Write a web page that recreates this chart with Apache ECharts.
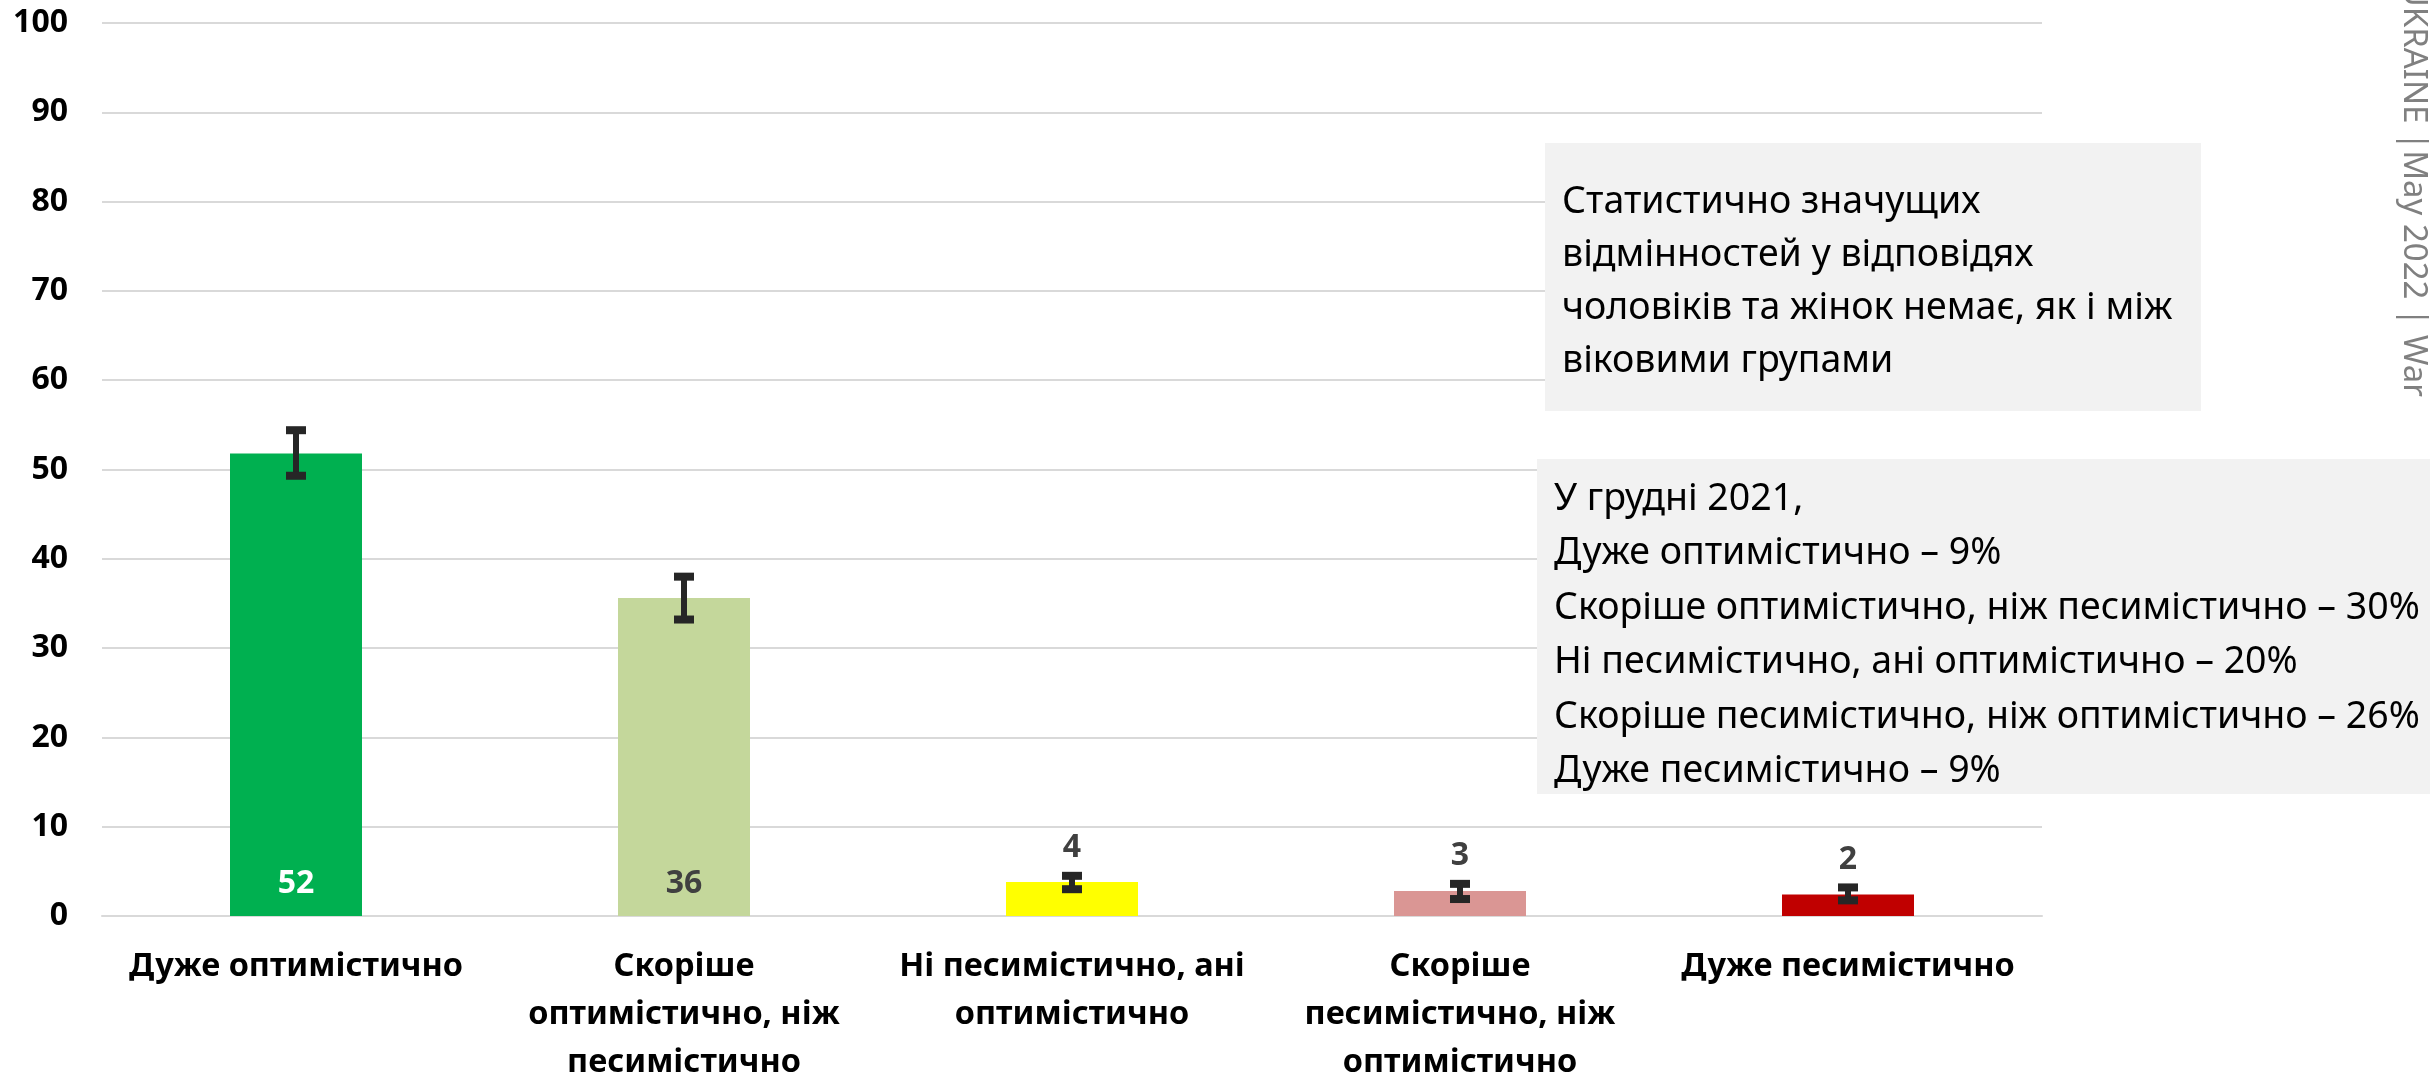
<!DOCTYPE html>
<html>
<head>
<meta charset="utf-8">
<script src="https://cdn.jsdelivr.net/npm/echarts@6/dist/echarts.min.js"></script>
<style>
html,body{margin:0;padding:0;background:#fff;}
#chart{width:2430px;height:1078px;}
</style>
</head>
<body>
<div id="chart"></div>
<script>
const categories = [
  'Дуже оптимістично',
  'Скоріше\nоптимістично, ніж\nпесимістично',
  'Ні песимістично, ані\nоптимістично',
  'Скоріше\nпесимістично, ніж\nоптимістично',
  'Дуже песимістично'
];
const values = [51.8, 35.6, 3.8, 2.8, 2.4];
const valueLabels = ['52', '36', '4', '3', '2'];
const errLow = [49.3, 33.2, 3.0, 1.9, 1.75];
const errHigh = [54.4, 38.0, 4.5, 3.6, 3.2];
const barColors = ['#00B050', '#C4D79B', '#FFFF00', '#DA9694', '#C00000'];
const insideLabelColors = ['#FFFFFF', '#404040'];
const yTicks = [0, 10, 20, 30, 40, 50, 60, 70, 80, 90, 100];
const note1 = 'Статистично значущих\nвідмінностей у відповідях\nчоловіків та жінок немає, як і між\nвіковими групами';
const note2 = 'У грудні 2021,\nДуже оптимістично – 9%\nСкоріше оптимістично, ніж песимістично – 30%\nНі песимістично, ані оптимістично – 20%\nСкоріше песимістично, ніж оптимістично – 26%\nДуже песимістично – 9%';
const sideText = 'UKRAINE |May 2022 | War';

const FONT = '"Noto Sans", "Open Sans", sans-serif';
const chart = echarts.init(document.getElementById('chart'), null, {renderer: 'canvas'});

const barData = values.map((v, i) => ({
  value: v,
  itemStyle: {color: barColors[i]},
  label: i < 2 ? {
    show: true, position: 'insideBottom', distance: 16,
    formatter: valueLabels[i], color: insideLabelColors[i],
    fontSize: 32, fontWeight: 'bold', fontFamily: FONT
  } : {show: false}
}));

const errData = values.map((v, i) => [i, errLow[i], errHigh[i]]);

const option = {
  animation: false,
  backgroundColor: '#fff',
  grid: {left: 102, right: 388, top: 23, bottom: 162, containLabel: false, outerBoundsMode: 'none'},
  xAxis: {
    type: 'category',
    data: categories,
    axisLine: {show: true, lineStyle: {color: '#D9D9D9', width: 2}},
    axisTick: {show: false},
    axisLabel: {
      interval: 0, margin: 27, color: '#000', fontSize: 32.5, fontWeight: 'bold',
      fontFamily: FONT, lineHeight: 48, align: 'center'
    }
  },
  yAxis: {
    type: 'value', min: 0, max: 100, interval: 10,
    axisLine: {show: false}, axisTick: {show: false},
    axisLabel: {
      margin: 34, color: '#000', fontSize: 32, fontWeight: 'bold', fontFamily: FONT,
      formatter: v => yTicks.includes(v) ? String(v) : ''
    },
    splitLine: {lineStyle: {color: '#D9D9D9', width: 2}}
  },
  series: [
    {
      type: 'bar', data: barData, barWidth: 132, z: 2
    },
    {
      type: 'custom', z: 5,
      data: errData,
      encode: {x: 0, y: [1, 2]},
      renderItem: function (params, api) {
        const i = api.value(0);
        const lo = api.coord([i, api.value(1)]);
        const hi = api.coord([i, api.value(2)]);
        const x = hi[0];
        const hw = 10;
        const col = '#262626';
        const children = [
          {type: 'line', shape: {x1: x, y1: hi[1], x2: x, y2: lo[1]}, style: {stroke: col, lineWidth: 6}},
          {type: 'line', shape: {x1: x - hw, y1: hi[1], x2: x + hw, y2: hi[1]}, style: {stroke: col, lineWidth: 8}},
          {type: 'line', shape: {x1: x - hw, y1: lo[1], x2: x + hw, y2: lo[1]}, style: {stroke: col, lineWidth: 8}}
        ];
        if (i >= 2) {
          children.push({
            type: 'text',
            style: {
              text: valueLabels[i], x: x, y: hi[1] - 28,
              align: 'center', verticalAlign: 'middle',
              fill: '#404040', fontSize: 32, fontWeight: 'bold', fontFamily: FONT
            }
          });
        }
        return {type: 'group', children: children};
      }
    }
  ],
  graphic: [
    {
      type: 'rect', z: 100,
      shape: {x: 1545, y: 143, width: 656, height: 268},
      style: {fill: '#F2F2F2'}
    },
    {
      type: 'text', z: 101,
      style: {
        text: note1, x: 1562, y: 176, align: 'left', verticalAlign: 'top',
        fill: '#000', fontSize: 37.5, fontFamily: FONT, lineHeight: 53
      }
    },
    {
      type: 'rect', z: 100,
      shape: {x: 1537, y: 459, width: 893, height: 335},
      style: {fill: '#F2F2F2'}
    },
    {
      type: 'text', z: 101,
      style: {
        text: note2, x: 1554, y: 472, align: 'left', verticalAlign: 'top',
        fill: '#000', fontSize: 37.5, fontFamily: FONT, lineHeight: 54.5
      }
    },
    {
      type: 'text', z: 101,
      x: 2413, y: 397, rotation: -Math.PI / 2,
      style: {
        text: sideText, x: 0, y: 0, align: 'right', verticalAlign: 'middle',
        fill: '#808080', fontSize: 33, fontFamily: FONT
      }
    }
  ]
};
chart.setOption(option);
</script>
</body>
</html>
